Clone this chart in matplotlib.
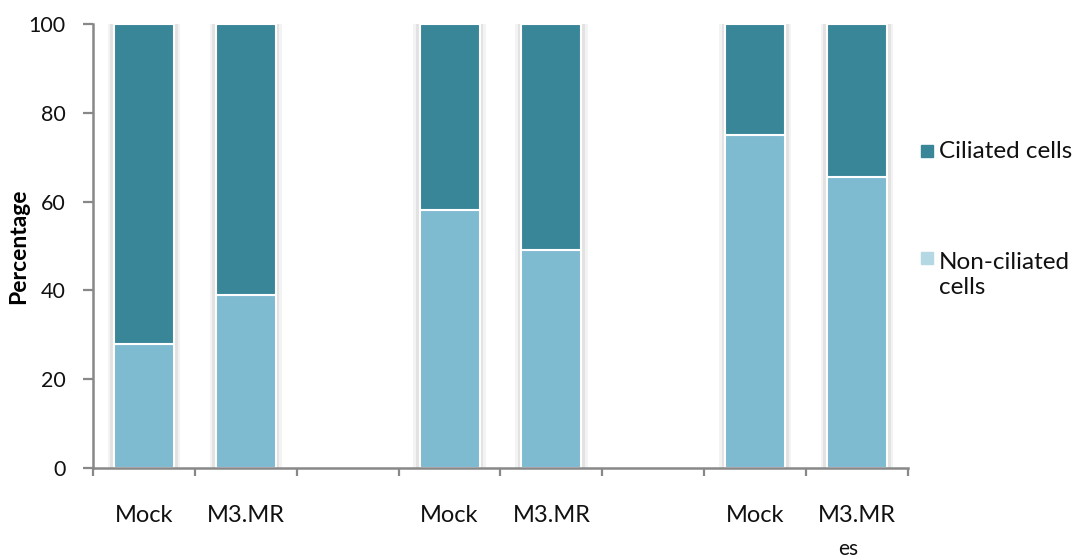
import matplotlib
matplotlib.use("Agg")
import matplotlib.pyplot as plt
from matplotlib.patches import Rectangle

plt.rcParams['font.family'] = ['Lato', 'DejaVu Sans']

# Category slots (blank slots separate the three groups)
categories = ["Mock", "M3.MR", "", "Mock", "M3.MR", "", "Mock", "M3.MR"]
non_ciliated = [28, 39, None, 58, 49, None, 75, 65.5]
ciliated = [72, 61, None, 42, 51, None, 25, 34.5]

series_names = ["Ciliated cells", "Non-ciliated\ncells"]
color_ciliated = "#3A8699"
color_non = "#7EBAD0"
color_non_legend = "#B4D8E4"
yticks = [0, 20, 40, 60, 80, 100]

fig = plt.figure(figsize=(10.77, 5.58), dpi=100)
ax = fig.add_axes([0.0864, 0.1613, 0.7566, 0.7957])

width = 0.59
for i, (nc, c) in enumerate(zip(non_ciliated, ciliated)):
    if nc is None:
        continue
    # soft grey halo around each bar
    for w, col in [(width + 0.12, "#F3F3F3"), (width + 0.07, "#E2E2E2")]:
        ax.bar(i, nc + c, width=w, color=col, edgecolor="none", zorder=1)
    ax.bar(i, nc, width=width, color=color_non, edgecolor="white",
           linewidth=1.5, zorder=2)
    ax.bar(i, c, bottom=nc, width=width, color=color_ciliated,
           edgecolor="white", linewidth=1.5, zorder=2)

ax.set_xlim(-0.5, len(categories) - 0.5)
ax.set_ylim(0, 100)
ax.set_yticks(yticks)
ax.set_yticklabels([str(v) for v in yticks], fontsize=15.5, color="#111111")

ax.set_xticks(range(len(categories)))
ax.set_xticklabels(categories, fontsize=17, color="#111111")
ax.set_xticks([i - 0.5 for i in range(len(categories) + 1)], minor=True)
ax.tick_params(axis="x", which="major", length=0, pad=27)
ax.tick_params(axis="x", which="minor", length=6, width=1.6, color="#888888")
ax.tick_params(axis="y", length=7, width=1.6, color="#888888", pad=13)

for s in ["top", "right"]:
    ax.spines[s].set_visible(False)
for s in ["left", "bottom"]:
    ax.spines[s].set_color("#888888")
    ax.spines[s].set_linewidth(1.8)
ax.spines["bottom"].set_zorder(3)

ax.set_ylabel("Percentage", fontsize=16.5, fontweight="bold")
ax.yaxis.set_label_coords(-0.0785, 0.5)

# Legend drawn at the right side
fig.patches.append(Rectangle((921 / 1077, 1 - 157 / 558), 12 / 1077, 12 / 558,
                             transform=fig.transFigure, color=color_ciliated))
fig.text(939 / 1077, 1 - 151 / 558, series_names[0], fontsize=17.5,
         va="center", ha="left", color="#111111")
fig.patches.append(Rectangle((921 / 1077, 1 - 264 / 558), 12 / 1077, 12 / 558,
                             transform=fig.transFigure, color=color_non_legend))
fig.text(939 / 1077, 1 - 275 / 558, series_names[1], fontsize=17.5,
         va="center", ha="left", color="#111111", linespacing=1.25)

fig.text(838 / 1077, 1 - 549 / 558, "es", fontsize=15, va="center",
         ha="left", color="#111111")

fig.savefig("out.png", dpi=100)
